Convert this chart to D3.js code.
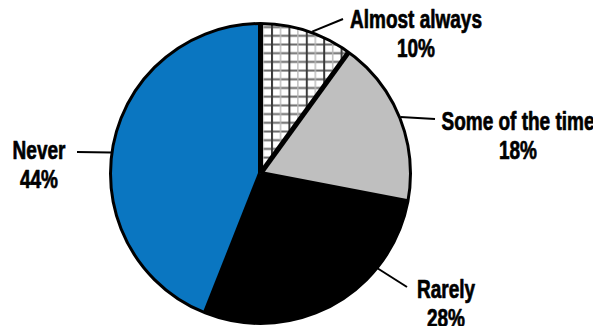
<!DOCTYPE html>
<html>
<head>
<meta charset="utf-8">
<script src="https://cdn.jsdelivr.net/npm/d3@7/dist/d3.min.js"></script>
<style>
  html, body { margin: 0; padding: 0; background: #fff; }
  svg { display: block; }
  text { font-family: "Liberation Sans", Arial, sans-serif; font-weight: bold; fill: #000;
         stroke: #000; stroke-width: 0.7px; stroke-linejoin: round; }
</style>
</head>
<body>
<svg id="chart" width="593" height="326"></svg>
<script>
// Survey answers, share of respondents (%)
const categories = ["Almost always", "Some of the time", "Rarely", "Never"];
const values = [10, 18, 28, 44];
const valueLabels = ["10%", "18%", "28%", "44%"];

const width = 593, height = 326;
const cx = 260.5, cy = 173.5, radius = 150;

const svg = d3.select("#chart");

// Grid hatch for the first slice
const defs = svg.append("defs");
const pat = defs.append("pattern")
  .attr("id", "grid")
  .attr("patternUnits", "userSpaceOnUse")
  .attr("width", 17.4).attr("height", 8.7)
  .attr("x", cx + 11).attr("y", 0);
pat.append("rect").attr("width", 17.4).attr("height", 8.7).attr("fill", "#fff");
pat.append("line").attr("x1", 0).attr("x2", 17.4).attr("y1", 1.5).attr("y2", 1.5)
  .attr("stroke", "#6a6a6a").attr("stroke-width", 2);
pat.append("line").attr("x1", 0.8).attr("x2", 0.8).attr("y1", 0).attr("y2", 8.7)
  .attr("stroke", "#3a3a3a").attr("stroke-width", 2.4);
pat.append("line").attr("x1", 9.5).attr("x2", 9.5).attr("y1", 0).attr("y2", 8.7)
  .attr("stroke", "#b8b8b8").attr("stroke-width", 1.4);

const fills = d3.scaleOrdinal()
  .domain(categories)
  .range(["url(#grid)", "#bfbfbf", "#000000", "#0a76c1"]);

const pie = d3.pie().sort(null).value(d => d.value);
const arcs = pie(categories.map((c, i) => ({ name: c, value: values[i], label: valueLabels[i] })));

const arc = d3.arc().innerRadius(0).outerRadius(radius);

const g = svg.append("g").attr("transform", `translate(${cx},${cy})`);

g.selectAll("path.slice")
  .data(arcs)
  .join("path")
  .attr("class", "slice")
  .attr("d", arc)
  .attr("fill", d => fills(d.data.name))
  .attr("stroke", "none");

// Slice separators
g.selectAll("line.sep")
  .data(arcs)
  .join("line")
  .attr("class", "sep")
  .attr("x1", 0).attr("y1", 0)
  .attr("x2", d => radius * Math.sin(d.startAngle))
  .attr("y2", d => -radius * Math.cos(d.startAngle))
  .attr("stroke", "#000")
  .attr("stroke-width", 5);

// Outer rim
g.append("circle")
  .attr("r", radius)
  .attr("fill", "none")
  .attr("stroke", "#000")
  .attr("stroke-width", 3);

// Label placement: angle where the leader leaves the rim, leader end, text anchor
const layout = {
  "Almost always":    { angle: 20,  end: [343, 19],  tx: 416, ty: 28 },
  "Some of the time": { angle: 68,  end: [435, 119], tx: 518, ty: 130 },
  "Rarely":           { angle: 129, end: [407, 287], tx: 446, ty: 298 },
  "Never":            { angle: 278, end: [77, 152],  tx: 39,  ty: 159 }
};

// Condensed bold lettering: regular bold face squeezed horizontally
const squeeze = 0.76;

const labels = svg.append("g");
arcs.forEach(d => {
  const L = layout[d.data.name];
  const a = L.angle * Math.PI / 180;
  const r = radius + 1;
  labels.append("line")
    .attr("x1", cx + r * Math.sin(a))
    .attr("y1", cy - r * Math.cos(a))
    .attr("x2", L.end[0]).attr("y2", L.end[1])
    .attr("stroke", "#000").attr("stroke-width", 2);
  const t = labels.append("g")
    .attr("transform", `translate(${L.tx},${L.ty}) scale(${squeeze},1)`)
    .append("text")
    .attr("text-anchor", "middle")
    .attr("font-size", 25);
  t.append("tspan").attr("x", 0).attr("y", 0).text(d.data.name);
  t.append("tspan").attr("x", 0).attr("y", 29).text(d.data.label);
});
</script>
</body>
</html>
